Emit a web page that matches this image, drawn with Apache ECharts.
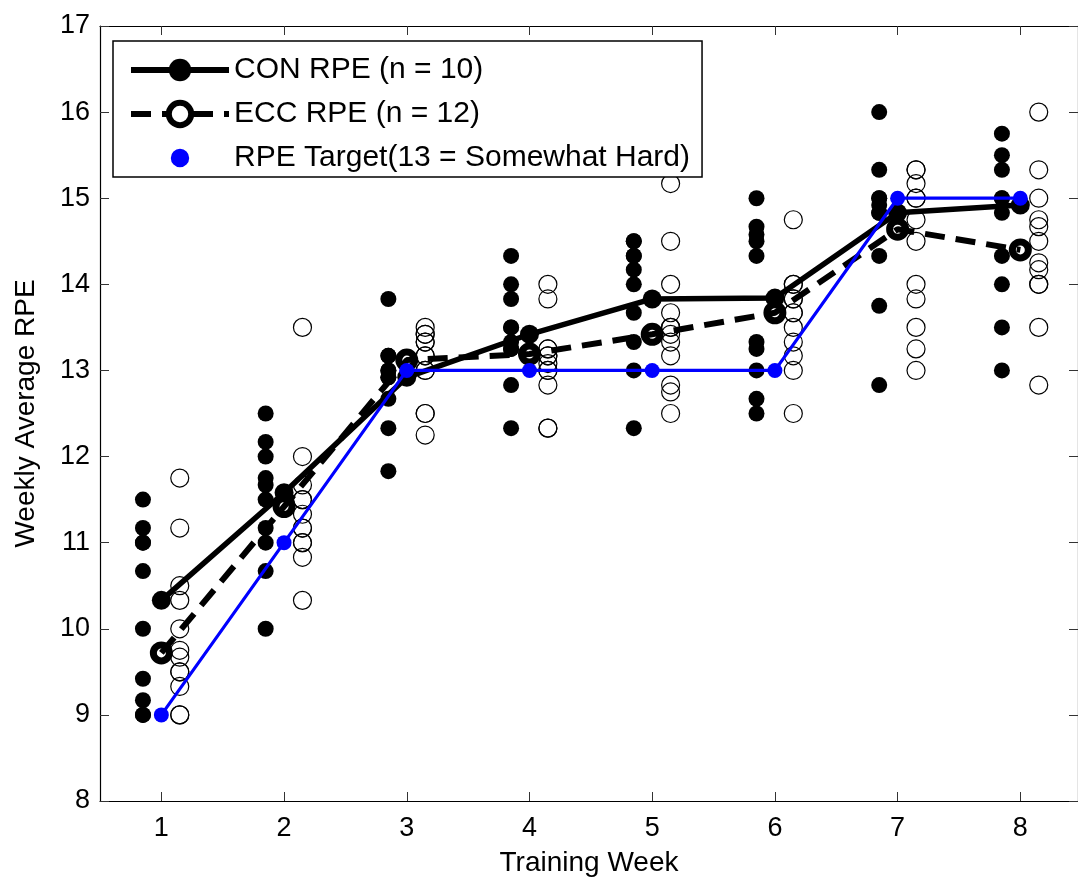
<!DOCTYPE html>
<html>
<head>
<meta charset="utf-8">
<script src="https://cdn.jsdelivr.net/npm/echarts@6/dist/echarts.min.js"></script>
<style>html,body{margin:0;padding:0;background:#fff;}#c{width:1078px;height:882px;}</style>
</head>
<body>
<div id="c"></div>
<script>
// ---- data ----
const weeks = [1, 2, 3, 4, 5, 6, 7, 8];
const xTicks = [1, 2, 3, 4, 5, 6, 7, 8];
const yTicks = [8, 9, 10, 11, 12, 13, 14, 15, 16, 17];
const conMean = [10.33, 11.58, 12.92, 13.42, 13.83, 13.84, 14.83, 14.92];
const eccMean = [9.72, 11.42, 13.12, 13.19, 13.42, 13.67, 14.64, 14.4];
const rpeTarget = [9, 11, 13, 13, 13, 13, 15, 15];
const conW1 = [11.5, 11.17, 11.0, 11.0, 10.67, 10.0, 9.42, 9.17, 9.0, 9.0];
const conW2 = [12.5, 12.17, 12.0, 11.75, 11.67, 11.5, 11.17, 11.0, 10.67, 10.0];
const conW3 = [13.83, 13.17, 13.0, 13.0, 12.92, 12.67, 12.33, 11.83, 13.17, 12.92];
const conW4 = [14.33, 14.0, 13.83, 13.5, 13.33, 13.25, 12.83, 12.33, 13.5, 13.25];
const conW5 = [14.5, 14.33, 14.17, 14.0, 13.67, 13.33, 13.0, 12.33, 14.5, 14.33];
const conW6 = [15.0, 14.67, 14.58, 14.5, 14.33, 13.33, 13.25, 13.0, 12.67, 12.5];
const conW7 = [16.0, 15.33, 15.0, 14.92, 14.83, 14.33, 13.75, 12.83, 15.0, 14.83];
const conW8 = [15.75, 15.5, 15.33, 15.0, 14.83, 14.33, 14.0, 13.5, 13.0, 15.0];
const eccW1 = [11.75, 11.17, 10.5, 10.33, 10.0, 9.75, 9.67, 9.5, 9.33, 9.0, 9.0, 9.5];
const eccW2 = [13.5, 12.0, 11.67, 11.5, 11.33, 11.17, 11.0, 10.83, 10.33, 11.5, 11.17, 11.0];
const eccW3 = [13.5, 13.42, 13.33, 13.17, 13.0, 12.5, 12.25, 13.17, 13.0, 13.33, 13.42, 12.5];
const eccW4 = [14.0, 13.83, 13.25, 13.17, 13.08, 13.0, 12.83, 12.33, 13.25, 13.17, 12.33, 13.0];
const eccW5 = [15.17, 14.5, 14.0, 13.67, 13.5, 13.42, 13.33, 13.17, 12.83, 12.75, 12.5, 13.5];
const eccW6 = [14.75, 14.0, 13.83, 13.67, 13.5, 13.33, 13.17, 13.0, 12.5, 13.67, 13.83, 14.0];
const eccW7 = [15.33, 15.17, 15.0, 14.75, 14.5, 14.0, 13.83, 13.5, 13.25, 13.0, 15.33, 15.0];
const eccW8 = [16.0, 15.33, 15.0, 14.75, 14.67, 14.5, 14.25, 14.17, 14.0, 13.5, 12.83, 14.0];
const conPoints = [conW1, conW2, conW3, conW4, conW5, conW6, conW7, conW8];
const eccPoints = [eccW1, eccW2, eccW3, eccW4, eccW5, eccW6, eccW7, eccW8];
const groupOffset = 0.15; // horizontal jitter of individual points (data units)
const xMin = 0.5, xMax = 8.47; // visible week window (right frame edge sits at the picture edge)
const names = ['CON RPE (n = 10)', 'ECC RPE (n = 12)', 'RPE Target(13 = Somewhat Hard)'];

// ---- build ----
const FONT = "'Liberation Sans', Arial, sans-serif";
const conScatter = [];
conPoints.forEach((arr, i) => arr.forEach(v => conScatter.push([weeks[i] - groupOffset, v])));
const eccScatter = [];
eccPoints.forEach((arr, i) => arr.forEach(v => eccScatter.push([weeks[i] + groupOffset, v])));
const pair = arr => weeks.map((w, i) => [w, arr[i]]);

const tickStyle = { inside: true, length: 9, lineStyle: { color: '#333', width: 1 } };
const axisLineStyle = { show: true, lineStyle: { color: '#000', width: 1.2 } };
const eccDash = [20, 11];

const chart = echarts.init(document.getElementById('c'), null, { renderer: 'canvas' });
chart.setOption({
  animation: false,
  backgroundColor: '#fff',
  textStyle: { fontFamily: FONT },
  grid: { left: 100, top: 26, right: 0, bottom: 81, containLabel: false },
  xAxis: [{
    type: 'value', min: xMin, max: xMax, position: 'bottom',
    name: 'Training Week', nameLocation: 'middle', nameGap: 48,
    nameTextStyle: { fontSize: 28, color: '#000', fontFamily: FONT },
    axisLine: axisLineStyle,
    axisTick: Object.assign({ customValues: xTicks }, tickStyle),
    axisLabel: { customValues: xTicks, fontSize: 27, color: '#000', margin: 14, fontFamily: FONT },
    splitLine: { show: false }
  }, {
    type: 'value', min: xMin, max: xMax, position: 'top',
    axisLine: axisLineStyle,
    axisTick: Object.assign({ customValues: xTicks }, tickStyle),
    axisLabel: { show: false },
    splitLine: { show: false }
  }],
  yAxis: [{
    type: 'value', min: yTicks[0], max: yTicks[yTicks.length - 1], interval: 1, position: 'left',
    name: 'Weekly Average RPE', nameLocation: 'middle', nameGap: 60,
    nameTextStyle: { fontSize: 28, color: '#000', fontFamily: FONT },
    axisLine: axisLineStyle,
    axisTick: tickStyle,
    axisLabel: { fontSize: 27, color: '#000', margin: 10, fontFamily: FONT },
    splitLine: { show: false }
  }, {
    type: 'value', min: yTicks[0], max: yTicks[yTicks.length - 1], interval: 1, position: 'right',
    axisLine: axisLineStyle,
    axisTick: tickStyle,
    axisLabel: { show: false },
    splitLine: { show: false }
  }],
  legend: {
    left: 113, top: 41, orient: 'vertical',
    padding: [14, 12, 4, 15], itemGap: 14, itemWidth: 98, itemHeight: 28,
    backgroundColor: '#fff', borderColor: '#000', borderWidth: 1.5, borderRadius: 0,
    textStyle: { fontSize: 30, color: '#000', fontFamily: FONT },
    selectedMode: false,
    data: [
      { name: names[0], lineStyle: { color: '#000', width: 6 },
        itemStyle: { color: '#000', borderWidth: 0 } },
      { name: names[1], lineStyle: { color: '#000', width: 6, type: eccDash },
        itemStyle: { color: '#fff', borderColor: '#000', borderWidth: 6 } },
      { name: names[2], itemStyle: { color: '#0000ff', borderColor: '#fff', borderWidth: 4 },
        lineStyle: { opacity: 0 } }
    ]
  },
  series: [
    {
      name: 'CON individual', type: 'scatter', data: conScatter, silent: true, z: 2,
      symbol: 'circle', symbolSize: 16, itemStyle: { color: '#000', opacity: 1 }
    },
    {
      name: 'ECC individual', type: 'scatter', data: eccScatter, silent: true, z: 2,
      symbol: 'circle', symbolSize: 18,
      itemStyle: { color: 'rgba(0,0,0,0)', borderColor: '#000', borderWidth: 1.2, opacity: 1 }
    },
    {
      name: names[0], type: 'line', data: pair(conMean), silent: true, z: 3,
      symbol: 'circle', symbolSize: 19, showAllSymbol: true,
      lineStyle: { color: '#000', width: 5.5 },
      itemStyle: { color: '#000' }
    },
    {
      name: names[1], type: 'line', data: pair(eccMean), silent: true, z: 4,
      symbol: 'circle', symbolSize: 16, showAllSymbol: true,
      lineStyle: { color: '#000', width: 6, type: eccDash },
      itemStyle: { color: 'rgba(0,0,0,0)', borderColor: '#000', borderWidth: 7 }
    },
    {
      name: names[2], type: 'line', data: pair(rpeTarget), silent: true, z: 5,
      symbol: 'circle', symbolSize: 15, showAllSymbol: true,
      lineStyle: { color: '#0000ff', width: 3.2 },
      itemStyle: { color: '#0000ff' }
    }
  ]
});
</script>
</body>
</html>
